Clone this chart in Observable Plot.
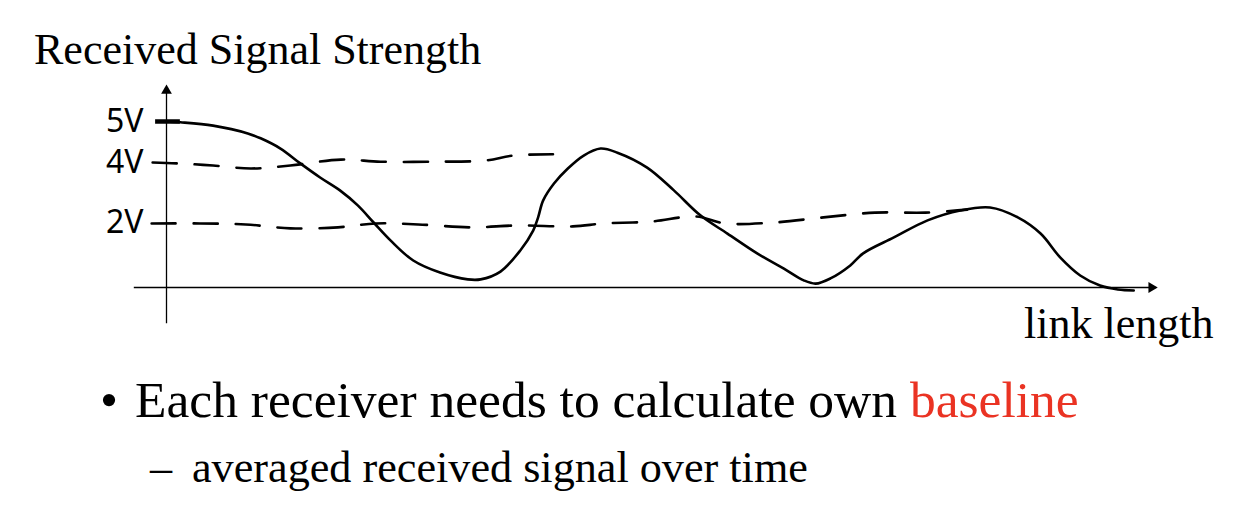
<!DOCTYPE html>
<html>
<head>
<meta charset="utf-8">
<script src="https://cdn.jsdelivr.net/npm/d3@7"></script>
<script src="https://cdn.jsdelivr.net/npm/@observablehq/plot@0.6"></script>
<style>
  html, body { margin: 0; padding: 0; background: #fff; }
  #page { position: relative; width: 1258px; height: 524px; overflow: hidden;
          font-family: "Liberation Serif", "Times New Roman", serif; color: #000; }
  .t { position: absolute; white-space: nowrap; line-height: 1; }
  #chart { position: absolute; left: 0; top: 80px; }
</style>
</head>
<body>
<div id="page">
  <div class="t" style="left:34px; top:28px; font-size:44px;">Received Signal Strength</div>
  <div id="chart"></div>
  <div class="t" style="left:100px; top:374px; font-size:51.5px;">•</div>
  <div class="t" style="left:135px; top:374px; font-size:51.5px;">Each receiver needs to calculate own <span style="color:#ea3323">baseline</span></div>
  <div class="t" style="left:150px; top:446px; font-size:44.2px;">–</div>
  <div class="t" style="left:192px; top:446px; font-size:44.2px;">averaged received signal over time</div>
</div>
<script>
// Received signal strength along the link (x: link length, arbitrary units 0..100; y: volts)
const signalX = [0, 1.4, 4.7, 8.2, 9.5, 11.5, 13.5, 15.5, 17.5, 19.3, 20.9, 22.6, 24.9, 27.6, 30.4, 31.7,
  33.7, 35.7, 37.0, 37.5, 38.0, 39.1, 40.5, 42.1, 43.8, 45.5, 48.5, 51.2, 53.9, 56.6, 59.6, 62.3, 64.3, 65.5,
  67.0, 69.0, 70.3, 73.4, 76.8, 80.1, 83.1, 85.9, 88.2, 90.2, 92.2, 94.2, 96.0, 97.6];
const signalV = [5.0, 4.98, 4.9, 4.71, 4.59, 4.34, 3.97, 3.5, 3.07, 2.57, 2.0, 1.45, 0.83, 0.46, 0.25, 0.25,
  0.49, 1.14, 1.75, 2.17, 2.73, 3.3, 3.8, 4.17, 4.34, 4.24, 3.83, 3.07, 2.23, 1.66, 1.05, 0.58, 0.22, 0.12,
  0.28, 0.68, 1.05, 1.54, 2.07, 2.4, 2.5, 2.17, 1.66, 0.92, 0.37, 0.06, -0.06, -0.09];

// Hand-drawn dashed baseline at 4V
const base4X = [-1.4, 1.1, 4.7, 8.5, 12.5, 17.6, 21.6, 27.1, 32.2, 35.0, 39.0];
const base4V = [4.0, 3.97, 3.9, 3.8, 3.9, 4.07, 4.02, 4.02, 4.05, 4.17, 4.2];

// Hand-drawn dashed baseline at 2V
const base2X = [-1.5, 3.4, 8.0, 12.5, 17.3, 21.1, 25.4, 30.7, 35.5, 41.0, 44.1, 48.9, 53.4, 56.4, 61.3, 66.3, 71.5, 76.6, 80.8];
const base2V = [1.97, 1.97, 1.94, 1.82, 1.85, 1.97, 1.94, 1.85, 1.91, 1.88, 1.97, 2.03, 2.2, 1.97, 2.0, 2.17, 2.33, 2.33, 2.43];

// Y tick labels (hand-drawn, unevenly spaced on the sketch's axis)
const tickValues = [5, 4, 2];
const tickLabels = ["5V", "4V", "2V"];
const sketchVolts = [0, 2, 4, 5];
const sketchSpacing = [0, 1.958, 3.765, 5];

// Axis extents (drawn axes with arrows)
const xAxisExtent = [-3.3, 100];
const yAxisExtent = [-1.1, 5.9];
const xAxisLabel = "link length";

const signal = signalX.map((x, i) => ({x, v: signalV[i]}));
const base4 = base4X.map((x, i) => ({x, v: base4V[i]}));
const base2 = base2X.map((x, i) => ({x, v: base2V[i]}));

// hand-drawn axis is not evenly spaced: piecewise-linear warp of volts
const warp = d3.scaleLinear().domain(sketchVolts).range(sketchSpacing);

const chart = Plot.plot({
  width: 1258,
  height: 280,
  marginLeft: 166,
  marginRight: 45,
  marginTop: 0,
  marginBottom: 23,
  style: {background: "transparent", overflow: "visible"},
  x: {domain: [0, 100], range: [166, 1157], axis: null},
  y: {domain: [0, 5], range: [207, 41], transform: (v) => warp(v), axis: null},
  marks: [
    // axes
    Plot.link([{x1: xAxisExtent[0], x2: xAxisExtent[1] - 0.6, y1: 0, y2: 0}],
      {x1: "x1", x2: "x2", y1: "y1", y2: "y2", stroke: "#000", strokeWidth: 1.3}),
    Plot.link([{x1: 0, x2: 0, y1: yAxisExtent[0], y2: yAxisExtent[1] - 0.15}],
      {x1: "x1", x2: "x2", y1: "y1", y2: "y2", stroke: "#000", strokeWidth: 1.3}),
    Plot.dot([{x: xAxisExtent[1] - 0.6, v: 0}], {x: "x", y: "v", symbol: "triangle", r: 4, rotate: 90, fill: "#000", stroke: null}),
    Plot.dot([{x: 0, v: yAxisExtent[1] - 0.15}], {x: "x", y: "v", symbol: "triangle", r: 4, fill: "#000", stroke: null}),
    // thick 5V tick
    Plot.ruleY([tickValues[0]], {x1: -1.1, x2: 1.4, stroke: "#000", strokeWidth: 4.5}),
    // dashed baselines
    Plot.line(base4, {x: "x", y: "v", curve: "catmull-rom", stroke: "#000", strokeWidth: 2.6,
      strokeDasharray: "24,18", strokeLinecap: "round"}),
    Plot.line(base2, {x: "x", y: "v", curve: "catmull-rom", stroke: "#000", strokeWidth: 2.6,
      strokeDasharray: "24,18", strokeLinecap: "round"}),
    // signal curve
    Plot.line(signal, {x: "x", y: "v", curve: "catmull-rom", stroke: "#000", strokeWidth: 2.6,
      strokeLinecap: "round", strokeLinejoin: "round"}),
    // y tick labels
    Plot.axisY(tickValues, {tickSize: 0, tickPadding: 23, label: null,
      tickFormat: (d) => tickLabels[tickValues.indexOf(d)],
      fontSize: 32, fontFamily: "Noto Sans, DejaVu Sans, sans-serif", fill: "#000"}),
    // x axis label
    Plot.text([xAxisLabel], {frameAnchor: "bottom-right", textAnchor: "end", lineAnchor: "bottom",
      fontSize: 44, fontFamily: "Liberation Serif, Times New Roman, serif", fill: "#000"})
  ]
});
document.getElementById("chart").appendChild(chart);
</script>
</body>
</html>
